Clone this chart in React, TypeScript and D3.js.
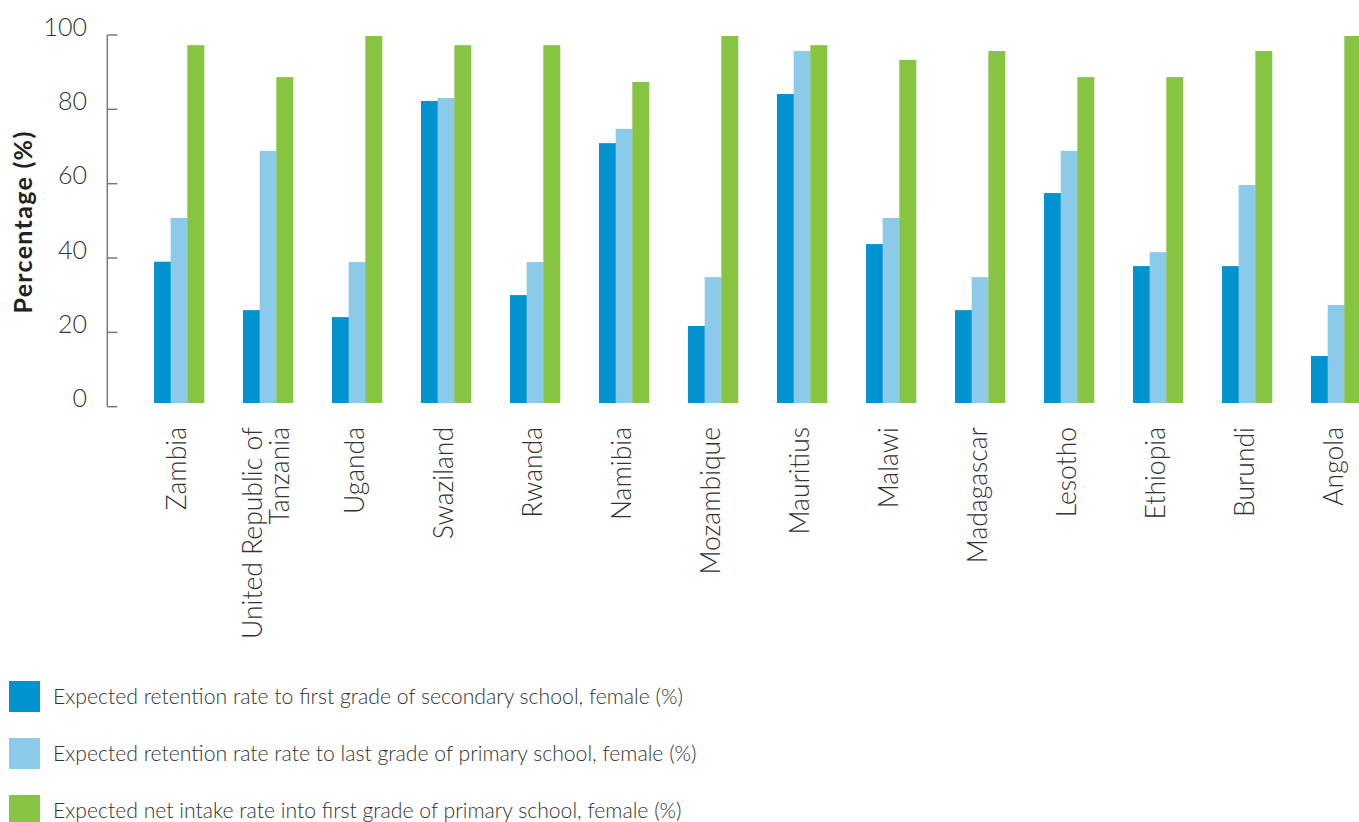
import React from "react";
import * as d3 from "d3";

const categories: string[] = [
  "Zambia",
  "United Republic of|Tanzania",
  "Uganda",
  "Swaziland",
  "Rwanda",
  "Namibia",
  "Mozambique",
  "Mauritius",
  "Malawi",
  "Madagascar",
  "Lesotho",
  "Ethiopia",
  "Burundi",
  "Angola",
];

const secondaryRetention: number[] = [38.5, 25.3, 23.4, 82.3, 29.4, 70.8, 21, 84.2, 43.3, 25.3, 57.2, 37.3, 37.3, 12.8];
const primaryRetention: number[] = [50.4, 68.7, 38.4, 83.1, 38.4, 74.7, 34.3, 95.9, 50.4, 34.3, 68.7, 41.1, 59.4, 26.7];
const netIntake: number[] = [97.5, 88.8, 100, 97.5, 97.5, 87.5, 100, 97.5, 93.5, 95.9, 88.8, 88.8, 95.9, 100];

const seriesNames: string[] = [
  "Expected retention rate to first grade of secondary school, female (%)",
  "Expected retention rate rate to last grade of primary school, female (%)",
  "Expected net intake rate into first grade of primary school, female (%)",
];
const seriesColors: string[] = ["#0093cf", "#8ccaea", "#87c442"];
const yTicks: number[] = [0, 20, 40, 60, 80, 100];

const FONT = "Lato, 'Open Sans', sans-serif";

export default function App() {
  const W = 1359;
  const H = 822;
  const series = [secondaryRetention, primaryRetention, netIntake];

  const x = d3
    .scaleBand<string>()
    .domain(categories)
    .range([134.5, 1380.5])
    .paddingInner(0.438)
    .paddingOuter(0.219);
  const xSub = d3
    .scaleBand<number>()
    .domain([0, 1, 2])
    .range([0, x.bandwidth()]);
  const yAxis = d3.scaleLinear().domain([0, 100]).range([406.7, 35]);
  const yBar = d3.scaleLinear().domain([0, 100]).range([403, 36]);

  const axisX = 107.3;

  return (
    <svg
      width={W}
      height={H}
      style={{ position: "absolute", left: 0, top: 0, background: "#fff" }}
    >
      {/* bars */}
      {categories.map((c, i) => (
        <g key={c} transform={`translate(${x(c)},0)`}>
          {series.map((s, k) => (
            <rect
              key={k}
              x={xSub(k)}
              y={yBar(s[i])}
              width={xSub.bandwidth() + 0.3}
              height={yBar(0) - yBar(s[i])}
              fill={seriesColors[k]}
            />
          ))}
        </g>
      ))}

      {/* y axis */}
      <line
        x1={axisX}
        x2={axisX}
        y1={yAxis(100)}
        y2={yAxis(0)}
        stroke="#7a7a7a"
        strokeWidth={1.5}
      />
      {yTicks.map((t) => (
        <g key={t}>
          <line
            x1={axisX}
            x2={axisX + 10}
            y1={yAxis(t)}
            y2={yAxis(t)}
            stroke="#7a7a7a"
            strokeWidth={1.5}
          />
          <text
            x={87}
            y={yAxis(t) - 8}
            dy="0.35em"
            textAnchor="end"
            fontFamily={FONT}
            fontWeight={300}
            fontSize={25}
            fill="#333"
          >
            {t}
          </text>
        </g>
      ))}
      <text
        transform={`translate(23,222) rotate(-90)`}
        textAnchor="middle"
        dy="0.35em"
        fontFamily={FONT}
        fontWeight={700}
        fontSize={25}
        letterSpacing={1.3}
        fill="#222"
      >
        Percentage (%)
      </text>

      {/* x labels */}
      {categories.map((c) => {
        const lines = c.split("|");
        const cx = (x(c) as number) + x.bandwidth() / 2;
        const lh = 27;
        const first = 7 - ((lines.length - 1) * lh) / 2;
        return (
          <text
            key={c}
            transform={`translate(${cx},427) rotate(-90)`}
            textAnchor="end"
            fontFamily={FONT}
            fontWeight={300}
            fontSize={26.5}
            fill="#333"
          >
            {lines.map((l, j) => (
              <tspan key={j} x={0} y={first + j * lh}>
                {l}
              </tspan>
            ))}
          </text>
        );
      })}

      {/* legend */}
      {seriesNames.map((n, k) => (
        <g key={n} transform={`translate(9,${681 + k * 57})`}>
          <rect width={31} height={31} fill={seriesColors[k]} />
          <text
            x={44}
            y={15.5}
            dy="0.35em"
            fontFamily={FONT}
            fontWeight={300}
            fontSize={21.2}
            fill="#333"
          >
            {n}
          </text>
        </g>
      ))}
    </svg>
  );
}
